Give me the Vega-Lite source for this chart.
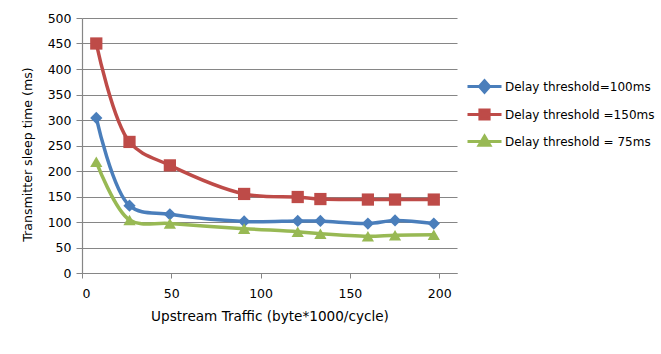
{
  "$schema": "https://vega.github.io/schema/vega-lite/v6.json",
  "width": 375,
  "height": 255,
  "autosize": "none",
  "padding": {"left": 82, "top": 18, "right": 204, "bottom": 81},
  "background": "white",
  "config": {
    "view": {"stroke": null},
    "font": "DejaVu Sans",
    "axis": {"labelColor": "#000000", "titleColor": "#000000", "labelFont": "DejaVu Sans", "titleFont": "DejaVu Sans", "titleFontWeight": "normal"}
  },
  "data": {
    "values": [
      {"traffic": 8, "sleep": 304, "series": "Delay threshold=100ms"},
      {"traffic": 26.6, "sleep": 132, "series": "Delay threshold=100ms"},
      {"traffic": 49.2, "sleep": 115, "series": "Delay threshold=100ms"},
      {"traffic": 90.8, "sleep": 101, "series": "Delay threshold=100ms"},
      {"traffic": 120.8, "sleep": 102, "series": "Delay threshold=100ms"},
      {"traffic": 133.5, "sleep": 102, "series": "Delay threshold=100ms"},
      {"traffic": 160.1, "sleep": 97, "series": "Delay threshold=100ms"},
      {"traffic": 175.3, "sleep": 103, "series": "Delay threshold=100ms"},
      {"traffic": 197, "sleep": 97, "series": "Delay threshold=100ms"},
      {"traffic": 8, "sleep": 450, "series": "Delay threshold =150ms"},
      {"traffic": 26.6, "sleep": 257, "series": "Delay threshold =150ms"},
      {"traffic": 49.2, "sleep": 211, "series": "Delay threshold =150ms"},
      {"traffic": 90.8, "sleep": 155, "series": "Delay threshold =150ms"},
      {"traffic": 120.8, "sleep": 149, "series": "Delay threshold =150ms"},
      {"traffic": 133.5, "sleep": 145, "series": "Delay threshold =150ms"},
      {"traffic": 160.1, "sleep": 144, "series": "Delay threshold =150ms"},
      {"traffic": 175.3, "sleep": 144, "series": "Delay threshold =150ms"},
      {"traffic": 197, "sleep": 144, "series": "Delay threshold =150ms"},
      {"traffic": 8, "sleep": 218, "series": "Delay threshold = 75ms"},
      {"traffic": 26.6, "sleep": 104, "series": "Delay threshold = 75ms"},
      {"traffic": 49.2, "sleep": 97, "series": "Delay threshold = 75ms"},
      {"traffic": 90.8, "sleep": 87, "series": "Delay threshold = 75ms"},
      {"traffic": 120.8, "sleep": 81, "series": "Delay threshold = 75ms"},
      {"traffic": 133.5, "sleep": 77, "series": "Delay threshold = 75ms"},
      {"traffic": 160.1, "sleep": 72, "series": "Delay threshold = 75ms"},
      {"traffic": 175.3, "sleep": 74, "series": "Delay threshold = 75ms"},
      {"traffic": 197, "sleep": 75, "series": "Delay threshold = 75ms"}
    ]
  },
  "encoding": {
    "x": {
      "field": "traffic", "type": "quantitative",
      "scale": {"domain": [0, 210], "nice": false, "zero": false},
      "axis": {
        "title": "Upstream Traffic (byte*1000/cycle)",
        "values": [0, 50, 100, 150, 200],
        "grid": false, "domainColor": "#868686", "domainWidth": 1,
        "tickColor": "#868686", "tickSize": 5,
        "labelFontSize": 12.5, "labelPadding": 9,
        "titleFontSize": 13.6, "titlePadding": 10
      }
    },
    "y": {
      "field": "sleep", "type": "quantitative",
      "scale": {"domain": [0, 500], "nice": false},
      "axis": {
        "title": "Transmitter sleep time (ms)",
        "values": [0, 50, 100, 150, 200, 250, 300, 350, 400, 450, 500],
        "grid": true, "gridColor": "#868686", "gridWidth": 1.2,
        "domainColor": "#868686", "domainWidth": 1.2,
        "tickColor": "#868686", "tickSize": 6,
        "labelFontSize": 12.5, "labelPadding": 5,
        "titleFontSize": 12.6, "titlePadding": 13, "titleY": 136
      }
    },
    "color": {
      "field": "series", "type": "nominal",
      "scale": {
        "domain": ["Delay threshold=100ms", "Delay threshold =150ms", "Delay threshold = 75ms"],
        "range": ["#4A7EBB", "#BE4B48", "#98B954"]
      },
      "legend": {
        "title": null, "orient": "none", "legendX": 391, "legendY": 57,
        "labelFontSize": 12, "labelFont": "DejaVu Sans", "labelColor": "#000000",
        "symbolSize": 400, "symbolStrokeWidth": 3, "rowPadding": 4, "labelOffset": 9,
        "encode": {
          "symbols": {
            "update": {
              "shape": {"signal": "datum.index === 0 ? 'M-1.7,0L1.7,0M0,-0.58L0.51,0L0,0.58L-0.51,0Z' : datum.index === 1 ? 'M-1.7,0L1.7,0M-0.46,-0.46L0.46,-0.46L0.46,0.46L-0.46,0.46Z' : 'M-1.7,0L1.7,0M0,-0.54L0.54,0.37L-0.54,0.37Z'"},
              "fill": {"signal": "scale('color', datum.value)"},
              "stroke": {"signal": "scale('color', datum.value)"},
              "strokeWidth": {"value": 3}
            }
          }
        }
      }
    }
  },
  "layer": [
    {
      "mark": {"type": "line", "interpolate": "catmull-rom", "strokeWidth": 3.5}
    },
    {
      "transform": [{"filter": "datum.series === 'Delay threshold=100ms'"}],
      "mark": {"type": "point", "filled": true, "opacity": 1, "size": 150, "shape": "diamond"}
    },
    {
      "transform": [{"filter": "datum.series === 'Delay threshold =150ms'"}],
      "mark": {"type": "point", "filled": true, "opacity": 1, "size": 150, "shape": "square"}
    },
    {
      "transform": [{"filter": "datum.series === 'Delay threshold = 75ms'"}],
      "mark": {"type": "point", "filled": true, "opacity": 1, "size": 150, "shape": "triangle-up"}
    }
  ]
}
